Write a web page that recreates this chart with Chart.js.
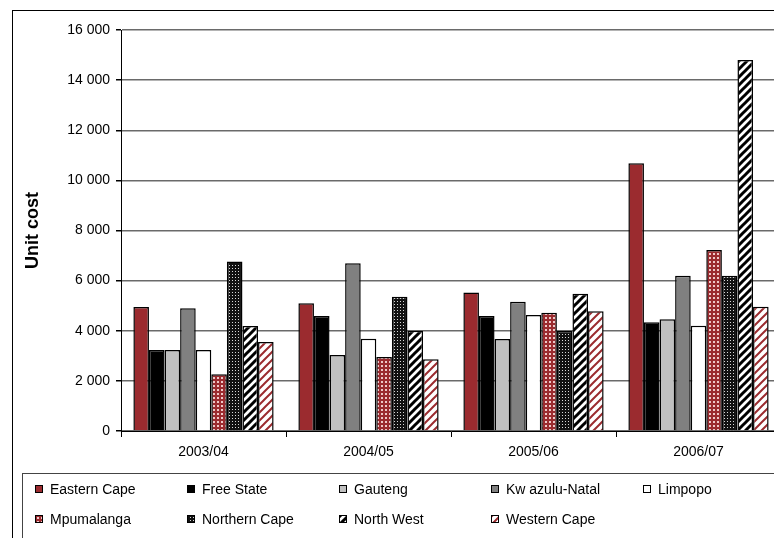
<!DOCTYPE html>
<html>
<head>
<meta charset="utf-8">
<title>Unit cost by province</title>
<script src="https://cdn.jsdelivr.net/npm/chart.js@4.4.1/dist/chart.umd.min.js"></script>
<style>
  html, body { margin: 0; padding: 0; background: #fff; overflow: hidden; }
  #wrap { width: 774px; height: 538px; overflow: hidden; position: relative; }
  #myChart { position: absolute; left: 0; top: 0; }
</style>
</head>
<body>
<div id="wrap">
  <canvas id="myChart" width="800" height="538"></canvas>
</div>
<script>
const categories = ["2003/04", "2004/05", "2005/06", "2006/07"];
const provinces = ["Eastern Cape", "Free State", "Gauteng", "Kw azulu-Natal", "Limpopo",
  "Mpumalanga", "Northern Cape", "North West", "Western Cape"];
const easternCape  = [4950, 5100, 5530, 10680];
const freeState    = [3230, 4590, 4590, 4340];
const gauteng      = [3230, 3030, 3670, 4460];
const kwazuluNatal = [4900, 6690, 5160, 6190];
const limpopo      = [3230, 3680, 4630, 4200];
const mpumalanga   = [2260, 2950, 4720, 7220];
const northernCape = [6760, 5360, 3990, 6190];
const northWest    = [4190, 4000, 5480, 14800];
const westernCape  = [3550, 2860, 4780, 4960];
const yTicks = [0, 2000, 4000, 6000, 8000, 10000, 12000, 14000, 16000];

const FONT = "'Liberation Sans', Arial, sans-serif";
const RED = "#9b2b2f";

// small tile patterns like the excel fills
function dots(bg, fg, tile, size) {
  const c = document.createElement("canvas");
  c.width = tile; c.height = tile;
  const g = c.getContext("2d");
  g.fillStyle = bg; g.fillRect(0, 0, tile, tile);
  g.fillStyle = fg; g.fillRect(1, 1, size, size);
  return g.createPattern(c, "repeat");
}
function stripes(fg, w) {
  const c = document.createElement("canvas");
  c.width = 8; c.height = 8;
  const g = c.getContext("2d");
  g.fillStyle = "#fff"; g.fillRect(0, 0, 8, 8);
  g.strokeStyle = fg; g.lineWidth = w;
  g.beginPath();
  g.moveTo(-1, 9); g.lineTo(9, -1);
  g.moveTo(-5, 5); g.lineTo(5, -5);
  g.moveTo(3, 13); g.lineTo(13, 3);
  g.stroke();
  return g.createPattern(c, "repeat");
}

const fills = [RED, "#000000", "#c0c0c0", "#808080", "#ffffff",
  dots(RED, "#efc8c8", 4, 2), dots("#111111", "#d8d8d8", 3, 1), stripes("#000", 3), stripes(RED, 2)];
const series = [easternCape, freeState, gauteng, kwazuluNatal, limpopo,
  mpumalanga, northernCape, northWest, westernCape];

// outer frame + legend box drawn by hand (excel style columns)
const frameLegend = {
  id: "frameLegend",
  afterDraw(chart) {
    const g = chart.ctx;
    g.save();
    g.strokeStyle = "#000";
    g.lineWidth = 1;
    g.strokeRect(12.5, 10.5, 900, 600);
    g.strokeStyle = "#444";
    g.strokeRect(22.5, 473.5, 900, 200);
    g.font = "14px " + FONT;
    g.textBaseline = "middle";
    chart.data.datasets.forEach((ds, i) => {
      const x = 35 + 152 * (i % 5);
      const y = i < 5 ? 489 : 519;
      g.fillStyle = ds.backgroundColor;
      g.fillRect(x, y - 4, 8, 8);
      g.strokeStyle = "#000";
      g.strokeRect(x + 0.5, y - 3.5, 7, 7);
      g.fillStyle = "#000";
      g.fillText(ds.label, x + 15, y + 1);
    });
    g.restore();
  }
};

const ctx = document.getElementById("myChart").getContext("2d");
const myChart = new Chart(ctx, {
  type: "bar",
  data: {
    labels: categories,
    datasets: provinces.map((name, i) => ({
      label: name,
      data: series[i],
      backgroundColor: fills[i],
      borderColor: "#000",
      borderWidth: 1.5,
      categoryPercentage: 0.85,
      barPercentage: 1.0
    }))
  },
  options: {
    responsive: false,
    animation: false,
    layout: { padding: { left: 0, right: 19, top: 30, bottom: 77 } },
    plugins: {
      legend: { display: false },
      tooltip: { enabled: false }
    },
    scales: {
      y: {
        min: 0,
        max: 16000,
        afterFit: (scale) => { scale.width = 121; },
        afterBuildTicks: (scale) => { scale.ticks = yTicks.map(v => ({ value: v })); },
        border: { color: "#000", width: 1 },
        grid: { color: "#6a6a6a", lineWidth: 1.5, tickColor: "#000", tickLength: 5 },
        ticks: {
          color: "#000",
          padding: 6,
          font: { family: FONT, size: 14 },
          callback: function(value) {
            return String(value).replace(/\B(?=(\d{3})+(?!\d))/g, " ");
          }
        },
        title: {
          display: true,
          text: "Unit cost",
          color: "#000",
          font: { family: FONT, size: 18, weight: "bold" },
          padding: { top: 22, bottom: 0 }
        }
      },
      x: {
        afterFit: (scale) => { scale.height = 30; },
        border: { color: "#000", width: 1 },
        grid: { offset: true, drawOnChartArea: false, tickColor: "#000", tickLength: 6 },
        ticks: { color: "#000", padding: 7, font: { family: FONT, size: 14 } }
      }
    }
  },
  plugins: [frameLegend]
});
</script>
</body>
</html>
